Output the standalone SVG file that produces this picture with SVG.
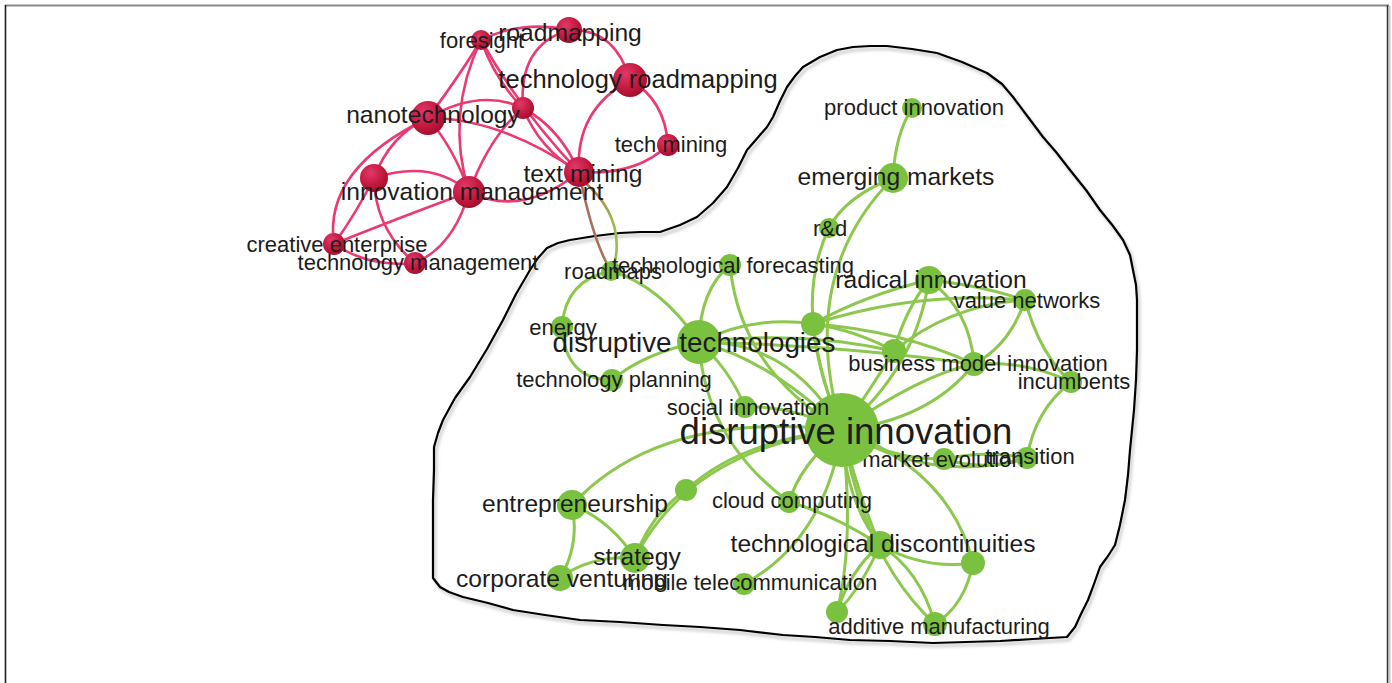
<svg xmlns="http://www.w3.org/2000/svg" width="1392" height="683" viewBox="0 0 1392 683">
  <style>
    .r { fill: none; stroke: #ea3a72; stroke-width: 2.6; }
    .g { fill: none; stroke: #8cc84e; stroke-width: 3; }
    .rn { fill: url(#redNode); }
    .gn { fill: #79c13f; }
    text { font-family: "Liberation Sans", Arial, sans-serif; fill: #1c1c1c; text-anchor: middle; }
    .s { font-size: 22px; }
    .m { font-size: 24.6px; }
    .outline { fill: none; stroke: #000; stroke-width: 2.2; stroke-linejoin: round; }
    .shadow { fill: none; stroke: #b0b0b0; stroke-width: 3; stroke-linejoin: round; opacity: 0.6; }
  </style>
  <defs>
    <radialGradient id="redNode" cx="0.38" cy="0.32" r="0.7">
      <stop offset="0" stop-color="#e0386a"/>
      <stop offset="0.6" stop-color="#c41a40"/>
      <stop offset="1" stop-color="#a50d2c"/>
    </radialGradient>
    <linearGradient id="bridge" x1="0" y1="0" x2="0" y2="1">
      <stop offset="0" stop-color="#b0705a"/>
      <stop offset="0.45" stop-color="#9fb850"/>
      <stop offset="1" stop-color="#8cc84e"/>
    </linearGradient>
    <filter id="soft" x="-5%" y="-5%" width="110%" height="110%">
      <feGaussianBlur stdDeviation="1.5"/>
    </filter>
  </defs>

  <rect width="1392" height="683" fill="#fff"/>

  <!-- page frame -->
  <g id="frame">
    <line x1="5" y1="5.5" x2="1389" y2="5.5" stroke="#8a8a8a" stroke-width="2"/>
    <line x1="5.5" y1="5" x2="5.5" y2="683" stroke="#1e1e1e" stroke-width="1.6"/>
    <line x1="1389.5" y1="6" x2="1389.5" y2="683" stroke="#c8c8c8" stroke-width="2"/>
    <line x1="1387.5" y1="5" x2="1387.5" y2="683" stroke="#333" stroke-width="1.5"/>
  </g>

  <!-- hand-drawn boundary of the green cluster -->
  <g id="boundary">
    <path class="shadow" filter="url(#soft)" transform="translate(2,3)" d="M853,47 L870,46 L887,46 L912,49 L937,53 L962,62 L987,73 L1002,84 L1013,97 L1028,117 L1043,137 L1056,152 L1070,170 L1086,190 L1100,210 L1113,226 L1123,240 L1130,255 L1133,270 L1136,285 L1137,300 L1137,325 L1137,350 L1136,380 L1134,410 L1132,430 L1130,450 L1128,475 L1125,500 L1120,525 L1115,545 L1108,556 L1100,567 L1094,584 L1088,600 L1081,614 L1075,627 L1067,637 L1033,639 L1000,641 L966,642 L933,643 L890,641 L850,640 L815,637 L783,635 L740,630 L700,627 L663,625 L620,622 L580,620 L545,615 L513,610 L488,603 L463,597 L449,592 L440,587 L433,578 L433,540 L433,500 L434,470 L434,447 L438,433 L443,420 L455,398 L470,377 L487,349 L503,320 L516,294 L530,270 L538,258 L547,248 L558,243 L570,240 L595,236 L620,233 L640,232 L660,232 L680,225 L697,217 L713,203 L727,187 L738,168 L747,150 L754,142 L760,135 L767,127 L773,117 L780,101 L787,87 L795,76 L803,67 L820,57 L837,50 Z"/>
    <path class="outline" d="M853,47 L870,46 L887,46 L912,49 L937,53 L962,62 L987,73 L1002,84 L1013,97 L1028,117 L1043,137 L1056,152 L1070,170 L1086,190 L1100,210 L1113,226 L1123,240 L1130,255 L1133,270 L1136,285 L1137,300 L1137,325 L1137,350 L1136,380 L1134,410 L1132,430 L1130,450 L1128,475 L1125,500 L1120,525 L1115,545 L1108,556 L1100,567 L1094,584 L1088,600 L1081,614 L1075,627 L1067,637 L1033,639 L1000,641 L966,642 L933,643 L890,641 L850,640 L815,637 L783,635 L740,630 L700,627 L663,625 L620,622 L580,620 L545,615 L513,610 L488,603 L463,597 L449,592 L440,587 L433,578 L433,540 L433,500 L434,470 L434,447 L438,433 L443,420 L455,398 L470,377 L487,349 L503,320 L516,294 L530,270 L538,258 L547,248 L558,243 L570,240 L595,236 L620,233 L640,232 L660,232 L680,225 L697,217 L713,203 L727,187 L738,168 L747,150 L754,142 L760,135 L767,127 L773,117 L780,101 L787,87 L795,76 L803,67 L820,57 L837,50 Z"/>
  </g>

  <!-- links -->
  <g id="connectors">
    <!-- red cluster -->
    <path class="r" d="M481,40 Q522,20 569,30"/>
    <path class="r" d="M569,30 Q615,28 630,80"/>
    <path class="r" d="M569,30 Q518,45 523,108"/>
    <path class="r" d="M630,80 Q575,110 579,172"/>
    <path class="r" d="M630,80 Q665,100 668,145"/>
    <path class="r" d="M668,145 Q636,176 579,172"/>
    <path class="r" d="M481,40 Q462,72 428,118"/>
    <path class="r" d="M481,40 Q445,115 469,192"/>
    <path class="r" d="M481,40 Q495,80 523,108"/>
    <path class="r" d="M481,40 Q520,110 579,172"/>
    <path class="r" d="M428,118 Q480,88 523,108"/>
    <path class="r" d="M428,118 Q500,118 579,172"/>
    <path class="r" d="M523,108 Q560,128 579,172"/>
    <path class="r" d="M523,108 Q540,150 579,172"/>
    <path class="r" d="M428,118 Q455,150 469,192"/>
    <path class="r" d="M523,108 Q490,136 469,192"/>
    <path class="r" d="M469,192 Q522,218 579,172"/>
    <path class="r" d="M428,118 Q323,169 334,244"/>
    <path class="r" d="M428,118 Q390,135 374,178"/>
    <path class="r" d="M374,178 Q432,159 469,192"/>
    <path class="r" d="M374,178 Q355,215 334,244"/>
    <path class="r" d="M374,178 Q375,229 415,263"/>
    <path class="r" d="M469,192 Q388,222 334,244"/>
    <path class="r" d="M469,192 Q454,246 415,263"/>
    <path class="r" d="M334,244 Q370,268 415,263"/>
    <!-- links between the two clusters -->
    <path fill="none" stroke="#a8725a" stroke-width="2.6" d="M579,172 Q593,242 611,271"/>
    <path fill="none" stroke="url(#bridge)" stroke-width="2.6" d="M582,180 Q628,218 613,270"/>
    <!-- green cluster -->
    <path class="g" d="M912,108 Q895,135 893,178"/>
    <path class="g" d="M893,178 Q845,197 829,228"/>
    <path class="g" d="M893,178 Q796,276 842,430"/>
    <path class="g" d="M829,228 Q790,310 842,430"/>
    <path class="g" d="M611,271 Q565,280 562,327"/>
    <path class="g" d="M562,327 Q565,380 612,380"/>
    <path class="g" d="M611,271 Q660,285 699,342"/>
    <path class="g" d="M612,380 Q644,353 699,342"/>
    <path class="g" d="M730,265 Q700,290 699,342"/>
    <path class="g" d="M730,265 Q740,370 842,430"/>
    <path class="g" d="M699,342 Q755,315 813,324"/>
    <path class="g" d="M699,342 Q770,360 842,430"/>
    <path class="g" d="M699,342 Q790,340 842,430"/>
    <path class="g" d="M699,342 Q730,370 745,407"/>
    <path class="g" d="M699,342 Q800,330 894,351"/>
    <path class="g" d="M699,342 Q840,345 974,364"/>
    <path class="g" d="M699,342 Q705,440 789,502"/>
    <path class="g" d="M813,324 Q820,380 842,430"/>
    <path class="g" d="M813,324 Q865,295 929,280"/>
    <path class="g" d="M813,324 Q920,290 1025,300"/>
    <path class="g" d="M813,324 Q855,330 894,351"/>
    <path class="g" d="M813,324 Q900,330 974,364"/>
    <path class="g" d="M929,280 Q905,310 894,351"/>
    <path class="g" d="M929,280 Q915,370 842,430"/>
    <path class="g" d="M929,280 Q980,285 1025,300"/>
    <path class="g" d="M929,280 Q970,310 974,364"/>
    <path class="g" d="M1025,300 Q1010,345 974,364"/>
    <path class="g" d="M1025,300 Q1040,355 1071,382"/>
    <path class="g" d="M894,351 Q950,305 1025,300"/>
    <path class="g" d="M974,364 Q1025,360 1071,382"/>
    <path class="g" d="M974,364 Q920,375 842,430"/>
    <path class="g" d="M974,364 Q930,420 842,430"/>
    <path class="g" d="M894,351 Q870,390 842,430"/>
    <path class="g" d="M1071,382 Q1035,410 1027,458"/>
    <path class="g" d="M1027,458 Q985,450 944,459"/>
    <path class="g" d="M1027,458 Q985,472 944,459"/>
    <path class="g" d="M1027,458 Q930,485 842,430"/>
    <path class="g" d="M944,459 Q890,460 842,430"/>
    <path class="g" d="M842,430 Q660,410 572,505"/>
    <path class="g" d="M842,430 Q740,440 686,490"/>
    <path class="g" d="M635,558 Q650,515 686,490"/>
    <path class="g" d="M635,558 Q690,450 842,430"/>
    <path class="g" d="M635,558 Q610,520 572,505"/>
    <path class="g" d="M572,505 Q580,545 560,578"/>
    <path class="g" d="M635,558 Q590,555 560,578"/>
    <path class="g" d="M842,430 Q800,465 789,502"/>
    <path class="g" d="M842,430 Q790,405 745,407"/>
    <path class="g" d="M789,502 Q835,515 880,545"/>
    <path class="g" d="M842,430 Q860,500 880,545"/>
    <path class="g" d="M842,430 Q845,500 880,545"/>
    <path class="g" d="M842,430 Q825,540 744,584"/>
    <path class="g" d="M842,430 Q855,540 837,612"/>
    <path class="g" d="M842,430 Q865,560 935,624"/>
    <path class="g" d="M842,430 Q950,470 973,563"/>
    <path class="g" d="M880,545 Q925,570 973,563"/>
    <path class="g" d="M880,545 Q920,570 935,624"/>
    <path class="g" d="M973,563 Q965,605 935,624"/>
    <path class="g" d="M880,545 Q850,570 837,612"/>
    <path class="g" d="M880,545 Q860,590 837,612"/>
  </g>

  <!-- red cluster nodes -->
  <g id="node-r1"><circle class="rn" cx="523" cy="108" r="11"/></g>
  <g id="node-r2"><circle class="rn" cx="374" cy="178" r="14"/></g>
  <g id="node-foresight"><circle class="rn" cx="481" cy="40" r="10"/><text class="s" x="482" y="48">foresight</text></g>
  <g id="node-technology-management"><circle class="rn" cx="415" cy="263" r="11"/><text class="s" x="418" y="270">technology management</text></g>
  <g id="node-creative-enterprise"><circle class="rn" cx="334" cy="244" r="11"/><text class="s" x="337" y="252">creative enterprise</text></g>
  <g id="node-roadmapping"><circle class="rn" cx="569" cy="30" r="13"/><text class="m" x="570" y="41">roadmapping</text></g>
  <g id="node-tech-mining"><circle class="rn" cx="668" cy="145" r="11"/><text class="s" x="671" y="152">tech mining</text></g>
  <g id="node-text-mining"><circle class="rn" cx="579" cy="172" r="15"/><text class="m" x="583" y="182">text mining</text></g>
  <g id="node-nanotechnology"><circle class="rn" cx="428" cy="118" r="17"/><text class="m" x="433" y="123">nanotechnology</text></g>
  <g id="node-innovation-management"><circle class="rn" cx="469" cy="192" r="16"/><text class="m" x="472" y="200">innovation management</text></g>
  <g id="node-technology-roadmapping"><circle class="rn" cx="630" cy="80" r="17"/><text x="638" y="88" style="font-size:25.5px">technology roadmapping</text></g>

  <!-- green cluster nodes -->
  <g id="node-g1"><circle class="gn" cx="813" cy="324" r="12"/></g>
  <g id="node-g2"><circle class="gn" cx="894" cy="351" r="12"/></g>
  <g id="node-g3"><circle class="gn" cx="686" cy="490" r="11"/></g>
  <g id="node-g4"><circle class="gn" cx="973" cy="563" r="12"/></g>
  <g id="node-g5"><circle class="gn" cx="837" cy="612" r="11"/></g>
  <g id="node-product-innovation"><circle class="gn" cx="912" cy="108" r="10"/><text class="s" x="914" y="115">product innovation</text></g>
  <g id="node-rd"><circle class="gn" cx="829" cy="228" r="10"/><text class="s" x="830" y="236">r&amp;d</text></g>
  <g id="node-roadmaps"><circle class="gn" cx="611" cy="271" r="10"/><text class="s" x="613" y="279">roadmaps</text></g>
  <g id="node-energy"><circle class="gn" cx="562" cy="327" r="11"/><text class="s" x="563" y="335">energy</text></g>
  <g id="node-technology-planning"><circle class="gn" cx="612" cy="380" r="11"/><text class="s" x="614" y="387">technology planning</text></g>
  <g id="node-transition"><circle class="gn" cx="1027" cy="458" r="11"/><text class="s" x="1030" y="464">transition</text></g>
  <g id="node-market-evolution"><circle class="gn" cx="944" cy="459" r="11"/><text class="s" x="943" y="467">market evolution</text></g>
  <g id="node-incumbents"><circle class="gn" cx="1071" cy="382" r="11"/><text class="s" x="1074" y="389">incumbents</text></g>
  <g id="node-value-networks"><circle class="gn" cx="1025" cy="300" r="11"/><text class="s" x="1027" y="308">value networks</text></g>
  <g id="node-cloud-computing"><circle class="gn" cx="789" cy="502" r="11"/><text class="s" x="792" y="508">cloud computing</text></g>
  <g id="node-technological-forecasting"><circle class="gn" cx="730" cy="265" r="11"/><text class="s" x="733" y="273">technological forecasting</text></g>
  <g id="node-business-model-innovation"><circle class="gn" cx="974" cy="364" r="12"/><text class="s" x="978" y="371">business model innovation</text></g>
  <g id="node-additive-manufacturing"><circle class="gn" cx="935" cy="624" r="12"/><text class="s" x="939" y="634">additive manufacturing</text></g>
  <g id="node-radical-innovation"><circle class="gn" cx="929" cy="280" r="14"/><text class="m" x="931" y="288">radical innovation</text></g>
  <g id="node-emerging-markets"><circle class="gn" cx="893" cy="178" r="15"/><text class="m" x="896" y="185">emerging markets</text></g>
  <g id="node-entrepreneurship"><circle class="gn" cx="572" cy="505" r="15"/><text class="m" x="575" y="512">entrepreneurship</text></g>
  <g id="node-strategy"><circle class="gn" cx="635" cy="558" r="15"/><text class="m" x="637" y="565">strategy</text></g>
  <g id="node-corporate-venturing"><circle class="gn" cx="560" cy="578" r="13"/><text class="m" x="562" y="587">corporate venturing</text></g>
  <g id="node-mobile-telecommunication"><circle class="gn" cx="744" cy="584" r="11"/><text class="s" x="750" y="590">mobile telecommunication</text></g>
  <g id="node-technological-discontinuities"><circle class="gn" cx="880" cy="545" r="14"/><text class="m" x="883" y="552">technological discontinuities</text></g>
  <g id="node-disruptive-technologies"><circle class="gn" cx="699" cy="342" r="22"/><text x="694" y="352" style="font-size:27.8px">disruptive technologies</text></g>
  <g id="node-disruptive-innovation"><circle class="gn" cx="842" cy="430" r="37"/><text x="846" y="444" style="font-size:36.5px">disruptive innovation</text></g>
  <g id="node-social-innovation"><circle class="gn" cx="745" cy="407" r="11"/><text class="s" x="748" y="415">social innovation</text></g>
</svg>
